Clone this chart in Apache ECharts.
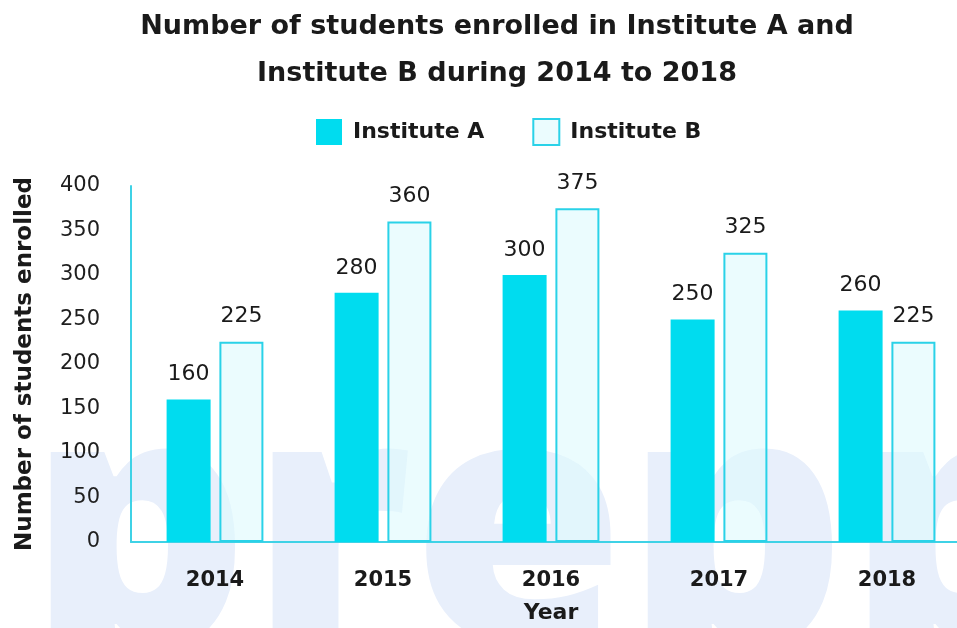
<!DOCTYPE html>
<html lang="en">
<head>
    <meta charset="UTF-8">
    <title>Students enrolled</title>
    <style>
        html, body { margin: 0; padding: 0; background: #fff; }
        #main { width: 957px; height: 628px; }
    </style>
</head>
<body>
<div id="main"></div>
<script src="https://cdn.jsdelivr.net/npm/echarts@6/dist/echarts.min.js"></script>
<script>
    // data
    var years = ['2014', '2015', '2016', '2017', '2018'];
    var instituteA = [160, 280, 300, 250, 260];
    var instituteB = [225, 360, 375, 325, 225];
    var yTicks = [0, 50, 100, 150, 200, 250, 300, 350, 400];

    var font = '"DejaVu Sans", "Noto Sans", sans-serif';
    var cyan = '#00dcef';
    var line = '#3fd2e6';

    var app = echarts.init(document.getElementById('main'));
    var option = {
        animation: false,
        title: {
            text: 'Number of students enrolled in Institute A and\nInstitute B during 2014 to 2018',
            left: 492,
            textAlign: 'center',
            top: -2,
            textStyle: {
                fontFamily: font,
                fontSize: 27,
                fontWeight: 'bold',
                color: '#1a1a1a',
                lineHeight: 47
            }
        },
        legend: {
            top: 113,
            left: 311,
            itemWidth: 26,
            itemHeight: 26,
            itemGap: 48,
            textStyle: {
                fontFamily: font,
                fontSize: 22,
                fontWeight: 'bold',
                color: '#1a1a1a',
                padding: [0, 0, 0, 6]
            },
            data: [
                {name: 'Institute A', icon: 'rect'},
                {name: 'Institute B', icon: 'rect'}
            ]
        },
        grid: {
            left: 131,
            top: 186,
            width: 840,
            height: 356,
            outerBoundsMode: 'none'
        },
        xAxis: {
            type: 'category',
            data: years,
            name: 'Year',
            nameLocation: 'middle',
            nameGap: 60,
            nameTextStyle: {
                fontFamily: font,
                fontSize: 22,
                fontWeight: 'bold',
                color: '#1a1a1a'
            },
            axisLine: {lineStyle: {color: line, width: 2}},
            axisTick: {show: false},
            axisLabel: {
                margin: 28,
                fontFamily: font,
                fontSize: 21,
                fontWeight: 'bold',
                color: '#1a1a1a'
            }
        },
        yAxis: {
            type: 'value',
            min: 0,
            max: 400,
            interval: 50,
            name: 'Number of students enrolled',
            nameLocation: 'middle',
            nameGap: 94,
            nameRotate: 90,
            nameTextStyle: {
                fontFamily: font,
                fontSize: 23,
                fontWeight: 'bold',
                color: '#1a1a1a'
            },
            axisLine: {show: true, lineStyle: {color: line, width: 2}},
            axisTick: {show: false},
            splitLine: {show: false},
            axisLabel: {
                margin: 31,
                fontFamily: font,
                fontSize: 21,
                color: '#1e1e1e',
                formatter: function (v) {
                    return yTicks.indexOf(v) > -1 ? String(v) : '';
                }
            }
        },
        series: [
            {
                name: 'Institute A',
                type: 'bar',
                data: instituteA,
                barWidth: 44,
                barGap: '20%',
                itemStyle: {color: cyan},
                label: {
                    show: true,
                    position: 'top',
                    distance: 14,
                    fontFamily: font,
                    fontSize: 22,
                    color: '#1a1a1a'
                }
            },
            {
                name: 'Institute B',
                type: 'bar',
                data: instituteB,
                barWidth: 44,
                itemStyle: {color: 'rgba(222,250,254,0.6)', borderColor: '#2ad2e8', borderWidth: 2},
                label: {
                    show: true,
                    position: 'top',
                    distance: 14,
                    fontFamily: font,
                    fontSize: 22,
                    color: '#1a1a1a'
                }
            }
        ],
        graphic: [
            {
                type: 'text',
                left: 28,
                top: 372,
                z: -10,
                silent: true,
                style: {
                    text: 'prepp',
                    fontFamily: '"Open Sans", sans-serif',
                    fontWeight: 800,
                    fontSize: 345,
                    fill: '#e8effb'
                }
            }
        ]
    };
    app.setOption(option);
</script>
</body>
</html>
